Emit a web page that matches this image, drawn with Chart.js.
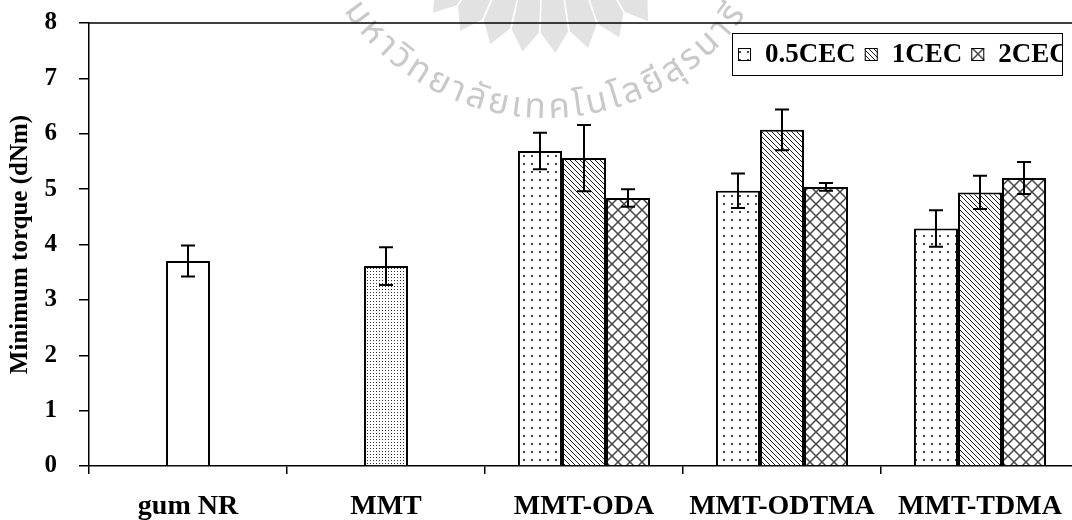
<!DOCTYPE html>
<html>
<head>
<meta charset="utf-8">
<script src="https://cdn.jsdelivr.net/npm/chart.js@4.4.1/dist/chart.umd.min.js"></script>
<style>
    html, body { margin: 0; padding: 0; overflow: hidden; background: #fff; }
    #torqueChart { display: block; }
</style>
</head>
<body>
<canvas id="torqueChart" width="1090" height="520"></canvas>
<script>
const categories = ["gum NR", "MMT", "MMT-ODA", "MMT-ODTMA", "MMT-TDMA"];

const gumNR    = [3.70, null, null, null, null];
const gumNRErr = [0.28, null, null, null, null];
const mmt      = [null, 3.61, null, null, null];
const mmtErr   = [null, 0.34, null, null, null];
const cec05    = [null, null, 5.69, 4.97, 4.29];
const cec05Err = [null, null, 0.33, 0.31, 0.33];
const cec1     = [null, null, 5.56, 6.07, 4.94];
const cec1Err  = [null, null, 0.60, 0.37, 0.30];
const cec2     = [null, null, 4.84, 5.04, 5.20];
const cec2Err  = [null, null, 0.16, 0.07, 0.29];

const yMin = 0;
const yMax = 8;
const yStep = 1;

const watermarkText = "มหาวิทยาลัยเทคโนโลยีสุรนารี";

const SERIF = "'Liberation Serif', 'Times New Roman', serif";
const canvas = document.getElementById("torqueChart");
const mainCtx = canvas.getContext("2d");

// small tiles for the hatch fills
function makePattern(size, draw) {
    const c = document.createElement("canvas");
    c.width = size;
    c.height = size;
    const g = c.getContext("2d");
    g.fillStyle = "#fff";
    g.fillRect(0, 0, size, size);
    draw(g, size);
    return mainCtx.createPattern(c, "repeat");
}

const fineDots = makePattern(3, (g) => {
    g.fillStyle = "#333";
    g.fillRect(1, 1, 1, 1);
});

const sparseDots = makePattern(8, (g) => {
    g.fillStyle = "#444";
    g.fillRect(3, 3, 2, 2);
});

const diagLines = makePattern(5, (g, s) => {
    g.strokeStyle = "#222";
    g.lineWidth = 1;
    for (let k = -s; k <= s; k += s) {
        g.beginPath();
        g.moveTo(k, 0);
        g.lineTo(k + s, s);
        g.stroke();
    }
});

const crossHatch = makePattern(12, (g, s) => {
    g.strokeStyle = "#444";
    g.lineWidth = 1.5;
    for (let k = -s; k <= s; k += s) {
        g.beginPath();
        g.moveTo(k, 0);
        g.lineTo(k + s, s);
        g.stroke();
        g.beginPath();
        g.moveTo(k + s, 0);
        g.lineTo(k, s);
        g.stroke();
    }
});

const deg = Math.PI / 180;

// faint university seal behind the plot
const watermark = {
    id: "watermark",
    beforeDraw(chart) {
        const ctx = chart.ctx;
        const area = chart.chartArea;
        const cx = area.left + 457;
        const cy = area.top - 149;
        ctx.save();

        // rays of the seal
        ctx.fillStyle = "#e2e2e2";
        const rays = 8;
        const a0 = 50 * deg;
        const a1 = 134.5 * deg;
        const step = (a1 - a0) / rays;
        for (let i = 0; i < rays; i++) {
            const s = a0 + i * step + 0.006;
            const e = a0 + (i + 1) * step - 0.006;
            const m = (s + e) / 2;
            ctx.beginPath();
            ctx.moveTo(cx, cy);
            ctx.lineTo(cx + 159 * Math.cos(s), cy + 159 * Math.sin(s));
            ctx.lineTo(cx + 179 * Math.cos(m), cy + 179 * Math.sin(m));
            ctx.lineTo(cx + 159 * Math.cos(e), cy + 159 * Math.sin(e));
            ctx.closePath();
            ctx.fill();
        }

        // curved name, letters facing the centre of the seal
        ctx.fillStyle = "#c9c9c9";
        ctx.font = "35px 'Noto Sans Thai', 'Noto Sans', sans-serif";
        ctx.textAlign = "center";
        ctx.textBaseline = "alphabetic";
        const clusters = [];
        for (const ch of watermarkText) {
            const code = ch.charCodeAt(0);
            const combining = code === 0x0E31 || (code >= 0x0E34 && code <= 0x0E3A) || (code >= 0x0E47 && code <= 0x0E4E);
            if (combining && clusters.length) clusters[clusters.length - 1] += ch;
            else clusters.push(ch);
        }
        const R = 244;
        const widths = clusters.map(cl => ctx.measureText(cl).width);
        // spread the letters so the 18th one lands where the seal has it
        let natural = widths[0] / 2 + widths[17] / 2;
        for (let i = 1; i < 17; i++) natural += widths[i];
        const extra = ((143.5 - 57.2) * deg * R - natural) / 17;
        let ang = 143.5 * deg + (widths[0] / 2) / R;
        clusters.forEach((cl, i) => {
            ang -= (widths[i] / 2) / R;
            ctx.save();
            ctx.translate(cx + R * Math.cos(ang), cy + R * Math.sin(ang));
            ctx.rotate(ang - Math.PI / 2);
            ctx.fillText(cl, 0, 0);
            ctx.restore();
            ang -= (widths[i] / 2 + extra) / R;
        });
        ctx.restore();
    }
};

const errorBars = {
    id: "errorBars",
    afterDatasetsDraw(chart) {
        const ctx = chart.ctx;
        const yScale = chart.scales.y;
        ctx.save();
        ctx.strokeStyle = "#000";
        ctx.lineWidth = 2;
        chart.data.datasets.forEach((ds, i) => {
            const meta = chart.getDatasetMeta(i);
            meta.data.forEach((bar, j) => {
                const v = ds.data[j];
                const e = ds.errors[j];
                if (v == null || e == null) return;
                const top = yScale.getPixelForValue(v + e);
                const bot = yScale.getPixelForValue(v - e);
                const half = 7;
                ctx.beginPath();
                ctx.moveTo(bar.x, top);
                ctx.lineTo(bar.x, bot);
                ctx.moveTo(bar.x - half, top);
                ctx.lineTo(bar.x + half, top);
                ctx.moveTo(bar.x - half, bot);
                ctx.lineTo(bar.x + half, bot);
                ctx.stroke();
            });
        });
        ctx.restore();
    }
};

// top frame line and the boxed legend
const frameAndLegend = {
    id: "frameAndLegend",
    afterDraw(chart) {
        const ctx = chart.ctx;
        const area = chart.chartArea;
        ctx.save();
        ctx.strokeStyle = "#000";
        ctx.lineWidth = 1.5;
        ctx.beginPath();
        ctx.moveTo(area.left, area.top);
        ctx.lineTo(area.right, area.top);
        ctx.stroke();

        const right = area.right - 17;
        const left = right - 330;
        const top = area.top + 10;
        const h = 42;
        ctx.fillStyle = "#fff";
        ctx.fillRect(left, top, right - left, h);
        ctx.lineWidth = 1;
        ctx.strokeRect(left + 0.5, top + 0.5, right - left, h);

        ctx.beginPath();
        ctx.rect(left, top, right - left, h);
        ctx.clip();
        ctx.font = "bold 27px " + SERIF;
        ctx.textBaseline = "middle";
        ctx.textAlign = "left";
        const mid = top + h / 2;
        let x = left + 6;
        chart.data.datasets.filter(d => d.inLegend).forEach(ds => {
            ctx.fillStyle = ds.backgroundColor;
            ctx.fillRect(x, mid - 6, 13, 13);
            ctx.strokeStyle = "#000";
            ctx.lineWidth = 1;
            ctx.strokeRect(x + 0.5, mid - 5.5, 12, 12);
            x += 27;
            ctx.fillStyle = "#000";
            ctx.fillText(ds.label, x, mid + 1);
            x += ctx.measureText(ds.label).width + 9;
        });
        ctx.restore();
    }
};

const singleBar = { grouped: false, categoryPercentage: 0.222, barPercentage: 1 };
const groupBar = { grouped: true, skipNull: true, categoryPercentage: 0.667, barPercentage: 1, inLegend: true };

new Chart(canvas, {
    type: "bar",
    data: {
        labels: categories,
        datasets: [
            Object.assign({ label: "gum NR", data: gumNR, errors: gumNRErr, backgroundColor: "#fff" }, singleBar),
            Object.assign({ label: "MMT", data: mmt, errors: mmtErr, backgroundColor: fineDots }, singleBar),
            Object.assign({ label: "0.5CEC", data: cec05, errors: cec05Err, backgroundColor: sparseDots }, groupBar),
            Object.assign({ label: "1CEC", data: cec1, errors: cec1Err, backgroundColor: diagLines }, groupBar),
            Object.assign({ label: "2CEC", data: cec2, errors: cec2Err, backgroundColor: crossHatch }, groupBar)
        ]
    },
    options: {
        responsive: false,
        animation: false,
        datasets: {
            bar: { borderColor: "#000", borderWidth: 2, borderSkipped: "bottom" }
        },
        layout: { padding: { top: 23, right: 11, left: 0, bottom: 0 } },
        plugins: {
            legend: { display: false },
            tooltip: { enabled: false }
        },
        scales: {
            x: {
                grid: { offset: true, drawOnChartArea: false, drawTicks: true, tickLength: 8, color: "#000", lineWidth: 1.5 },
                border: { display: true, color: "#000", width: 1.5 },
                ticks: { color: "#000", padding: 16, maxRotation: 0, autoSkip: false, font: { family: SERIF, size: 28, weight: "bold" } },
                afterFit(scale) { scale.height = 54; }
            },
            y: {
                min: yMin,
                max: yMax,
                grid: { drawOnChartArea: false, drawTicks: true, tickLength: 10, color: "#000", lineWidth: 1.5 },
                border: { display: true, color: "#000", width: 1.5 },
                ticks: { stepSize: yStep, color: "#000", padding: 22, font: { family: SERIF, size: 25, weight: "bold" } },
                title: {
                    display: true,
                    text: "Minimum torque (dNm)",
                    color: "#000",
                    padding: { top: 6, bottom: 0 },
                    font: { family: SERIF, size: 25, weight: "bold" }
                },
                afterFit(scale) {
                    scale.width = 89;
                    // let the frame start at the layout padding, not below the tick label overhang
                    scale.paddingTop = 0;
                    scale.paddingBottom = 0;
                }
            }
        }
    },
    plugins: [watermark, errorBars, frameAndLegend]
});
</script>
</body>
</html>
